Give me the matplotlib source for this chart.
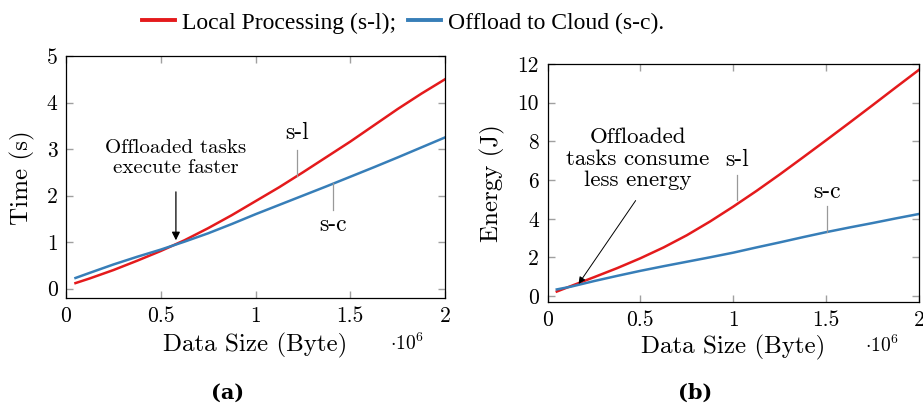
import numpy as np
import matplotlib
matplotlib.use('Agg')
import matplotlib.pyplot as plt

plt.rcParams['font.family'] = 'cmr10'
plt.rcParams['mathtext.fontset'] = 'cm'
plt.rcParams['axes.formatter.use_mathtext'] = True

# data size (x 10^6 byte)
size = [0.05, 0.125, 0.25, 0.375, 0.5, 0.625, 0.75, 0.875, 1.0,
        1.125, 1.25, 1.375, 1.5, 1.625, 1.75, 1.875, 2.0]

# time (s)
time_local = [0.12, 0.22, 0.40, 0.60, 0.81, 1.04, 1.30, 1.58, 1.88,
              2.18, 2.50, 2.83, 3.16, 3.51, 3.86, 4.19, 4.50]
time_cloud = [0.23, 0.34, 0.52, 0.685, 0.84, 1.01, 1.19, 1.39, 1.60,
              1.80, 2.00, 2.20, 2.405, 2.61, 2.82, 3.035, 3.25]

# energy (J)
energy_local = [0.24, 0.52, 0.98, 1.45, 1.96, 2.52, 3.15, 3.86, 4.63,
                5.44, 6.29, 7.17, 8.06, 8.96, 9.87, 10.79, 11.70]
energy_cloud = [0.35, 0.49, 0.78, 1.05, 1.31, 1.55, 1.78, 2.01, 2.25,
                2.52, 2.78, 3.05, 3.31, 3.55, 3.78, 4.02, 4.25]

red = '#e41a1c'
blue = '#377eb8'
W, H = 923, 411

fig = plt.figure(figsize=(9.23, 4.11), dpi=100)

def fx(px):
    return px / W

def fy(py):
    return 1 - py / H

ax1 = fig.add_axes([fx(66), fy(298), (445 - 66) / W, (298 - 56) / H])
ax2 = fig.add_axes([fx(547.5), fy(302), (919 - 547.5) / W, (302 - 64) / H])

x = np.array(size) * 1e6
l1, = ax1.plot(x, time_local, color=red, lw=1.8)
l2, = ax1.plot(x, time_cloud, color=blue, lw=1.8)
ax2.plot(x, energy_local, color=red, lw=1.8)
ax2.plot(x, energy_cloud, color=blue, lw=1.8)

ax1.set_xlim(0, 2e6)
ax1.set_ylim(-0.2, 5)
ax1.set_yticks([0, 1, 2, 3, 4, 5])
ax2.set_xlim(0, 2e6)
ax2.set_ylim(-0.3, 12)
ax2.set_yticks([0, 2, 4, 6, 8, 10, 12])

for ax in [ax1, ax2]:
    ax.set_xticks([0, 0.5e6, 1e6, 1.5e6, 2e6])
    ax.set_xticklabels(['0', '0.5', '1', '1.5', '2'])
    ax.tick_params(direction='in', length=5, width=1, color='#a0a0a0',
                   top=True, right=True, labelsize=15.5, pad=6)
    for s in ax.spines.values():
        s.set_linewidth(0.9)

ax1.set_yticklabels(['0', '1', '2', '3', '4', '5'])
ax2.set_yticklabels(['0', '2', '4', '6', '8', '10', '12'])

# axis labels
fig.text(fx(255), fy(345), 'Data Size (Byte)', fontsize=18, ha='center', va='center')
fig.text(fx(733), fy(347), 'Data Size (Byte)', fontsize=18, ha='center', va='center')
fig.text(fx(22), fy(178), 'Time (s)', fontsize=18, ha='center', va='center', rotation=90)
fig.text(fx(492), fy(183), 'Energy (J)', fontsize=18, ha='center', va='center', rotation=90)
fig.text(fx(407), fy(343), r'$\cdot10^{6}$', fontsize=14, ha='center', va='center')
fig.text(fx(882), fy(345), r'$\cdot10^{6}$', fontsize=14, ha='center', va='center')

# annotations, left
ax1.text(0.58e6, 2.80, 'Offloaded tasks\nexecute faster', fontsize=15,
         ha='center', va='center', linespacing=1.15)
ax1.annotate('', xy=(0.58e6, 0.98), xytext=(0.58e6, 2.14),
             arrowprops=dict(arrowstyle='-|>', color='black', lw=0.9,
                             mutation_scale=12))
ax1.plot([1.218e6, 1.218e6], [2.98, 2.43], color='#999999', lw=0.9)
ax1.text(1.218e6, 3.34, 's-l', fontsize=17, ha='center', va='center')
ax1.plot([1.41e6, 1.41e6], [2.27, 1.70], color='#999999', lw=0.9)
ax1.text(1.41e6, 1.38, 's-c', fontsize=17, ha='center', va='center')

# annotations, right
ax2.text(0.486e6, 7.10, 'Offloaded\ntasks consume\nless energy', fontsize=16.5,
         ha='center', va='center', linespacing=1.15)
ax2.annotate('', xy=(0.159e6, 0.52), xytext=(0.483e6, 5.06),
             arrowprops=dict(arrowstyle='-|>', color='black', lw=0.7,
                             mutation_scale=10))
ax2.plot([1.018e6, 1.018e6], [6.27, 4.97], color='#999999', lw=0.9)
ax2.text(1.018e6, 7.05, 's-l', fontsize=17, ha='center', va='center')
ax2.plot([1.506e6, 1.506e6], [4.66, 3.33], color='#999999', lw=0.9)
ax2.text(1.506e6, 5.40, 's-c', fontsize=17, ha='center', va='center')

# legend on top
leg = fig.legend([l1, l2], ['Local Processing (s-l);', 'Offload to Cloud (s-c).'],
                 loc='center', bbox_to_anchor=(fx(403), fy(23)), ncol=2, frameon=False,
                 prop={'family': 'Liberation Serif', 'size': 17},
                 handlelength=1.4, handletextpad=0.3, columnspacing=0.5,
                 borderpad=0, borderaxespad=0)
for ln in leg.get_lines():
    ln.set_linewidth(2.8)

# sub captions
fig.text(fx(228), fy(393), '(a)', fontsize=15, fontweight='bold',
         family='DejaVu Serif', ha='center', va='center')
fig.text(fx(695), fy(393), '(b)', fontsize=15, fontweight='bold',
         family='DejaVu Serif', ha='center', va='center')

plt.savefig('out.png', dpi=100)
